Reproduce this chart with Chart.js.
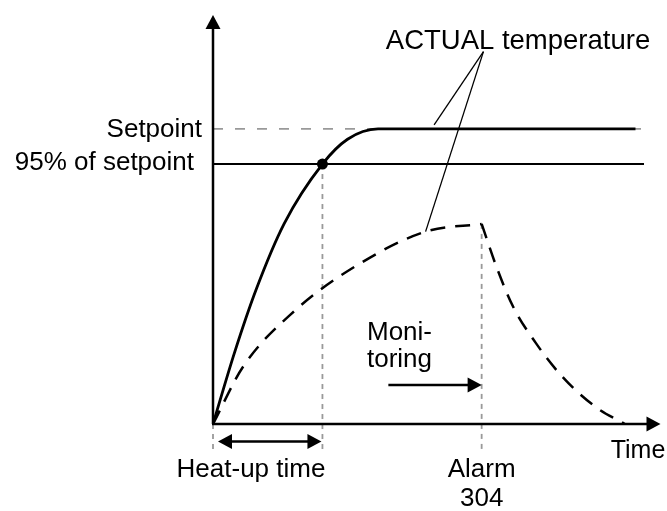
<!DOCTYPE html>
<html>
<head>
<meta charset="utf-8">
<script src="https://cdn.jsdelivr.net/npm/chart.js@4.4.1/dist/chart.umd.min.js"></script>
<style>
	html, body { margin: 0; padding: 0; background: #fff; }
	#wrap { width: 667px; height: 511px; position: relative; }
</style>
</head>
<body>
<div id="wrap"><canvas id="chart"></canvas></div>
<script>
// schematic units: time 0..100, temperature in % of setpoint
const solidTime = [0, 4.8, 9.6, 15.9, 24.4, 30.0, 36.8, 94.2];
const solidTemp = [0, 24.2, 45.5, 68.0, 88.1, 96.5, 100, 100];

const riseTime = [0, 6.7, 18.4, 31.6, 47.4, 59.9];
const riseTemp = [0, 19.4, 38.6, 53.3, 65.2, 67.8];

const fallTime = [59.9, 63.2, 66.9, 72.0, 77.9, 85.2, 91.8];
const fallTemp = [67.8, 53.3, 39.8, 27.4, 16.0, 5.9, 0];

const setpoint = 100;
const threshold = 88.1; // drawn level of "95% of setpoint"
const lineEnd = 96.1;
const heatUpTime = 24.4;
const alarmTime = 59.9;
const alarmTemp = 67.8;

const FAMILY = '"Liberation Sans", Arial, Helvetica, sans-serif';

function pts(xs, ys) {
	return xs.map((x, i) => ({ x: x, y: ys[i] }));
}

function arrowHead(ctx, x, y, angle, len, half) {
	ctx.save();
	ctx.translate(x, y);
	ctx.rotate(angle);
	ctx.beginPath();
	ctx.moveTo(0, 0);
	ctx.lineTo(-len, -half);
	ctx.lineTo(-len, half);
	ctx.closePath();
	ctx.fill();
	ctx.restore();
}

function seg(ctx, x1, y1, x2, y2) {
	ctx.beginPath();
	ctx.moveTo(x1, y1);
	ctx.lineTo(x2, y2);
	ctx.stroke();
}

const overlay = {
	id: "overlay",
	beforeDatasetsDraw(chart) {
		const ctx = chart.ctx;
		const sx = chart.scales.x, sy = chart.scales.y;
		const x0 = sx.getPixelForValue(0), y0 = sy.getPixelForValue(0);
		const below = y0 + 28;
		ctx.save();
		ctx.strokeStyle = "#999";
		ctx.lineWidth = 1.8;
		ctx.setLineDash([5, 5]);
		seg(ctx, x0, y0, x0, below);
		seg(ctx, sx.getPixelForValue(heatUpTime), sy.getPixelForValue(threshold), sx.getPixelForValue(heatUpTime), below);
		seg(ctx, sx.getPixelForValue(alarmTime), sy.getPixelForValue(alarmTemp), sx.getPixelForValue(alarmTime), below);
		ctx.restore();
	},
	afterDatasetsDraw(chart) {
		const ctx = chart.ctx;
		const sx = chart.scales.x, sy = chart.scales.y;
		const area = chart.chartArea;
		const x0 = sx.getPixelForValue(0), y0 = sy.getPixelForValue(0);
		ctx.save();
		ctx.fillStyle = "#000";
		ctx.strokeStyle = "#000";

		// axes with arrows
		ctx.lineWidth = 2.5;
		seg(ctx, x0, y0, x0, area.top + 12);
		arrowHead(ctx, x0, area.top, -Math.PI / 2, 14, 7.5);
		seg(ctx, x0 - 1, y0, area.right - 12, y0);
		arrowHead(ctx, area.right - 1, y0, 0, 14, 7.5);

		// leader lines to ACTUAL temperature
		ctx.lineWidth = 1.3;
		const ax = sx.getPixelForValue(60.3), ay = sy.getPixelForValue(126.2);
		seg(ctx, ax, ay, sx.getPixelForValue(49.3), sy.getPixelForValue(101.4));
		seg(ctx, ax, ay, sx.getPixelForValue(47.4), sy.getPixelForValue(65.2));

		// monitoring arrow
		ctx.lineWidth = 2.5;
		const my = sy.getPixelForValue(13.2);
		const mx1 = sx.getPixelForValue(39.1), mx2 = sx.getPixelForValue(alarmTime);
		seg(ctx, mx1, my, mx2 - 12, my);
		arrowHead(ctx, mx2, my, 0, 14, 7.5);

		// heat-up double arrow
		const hy = y0 + 17.5;
		const hx1 = x0 + 5, hx2 = sx.getPixelForValue(heatUpTime) - 1;
		seg(ctx, hx1 + 10, hy, hx2 - 10, hy);
		arrowHead(ctx, hx1, hy, Math.PI, 14, 7.5);
		arrowHead(ctx, hx2, hy, 0, 14, 7.5);

		// texts
		ctx.textBaseline = "middle";
		ctx.textAlign = "center";
		ctx.font = "27.5px " + FAMILY;
		ctx.fillText("ACTUAL temperature", 518, 41);
		ctx.font = "26px " + FAMILY;
		ctx.fillText("Heat-up time", 251, y0 + 46);
		ctx.fillText("Alarm", mx2, y0 + 46);
		ctx.fillText("304", mx2, y0 + 75);
		ctx.textAlign = "right";
		ctx.fillText("Setpoint", 202, sy.getPixelForValue(setpoint) + 1);
		ctx.fillText("95% of setpoint", 194, sy.getPixelForValue(threshold) - 1);
		ctx.textAlign = "left";
		ctx.fillText("Moni-", 367, my - 52);
		ctx.fillText("toring", 367, my - 25);
		ctx.textAlign = "center";
		ctx.font = "25px " + FAMILY;
		ctx.fillText("Time", 638, y0 + 27);
		ctx.restore();
	},
};

new Chart(document.getElementById("chart"), {
	type: "line",
	data: {
		datasets: [
			{
				label: "Setpoint",
				data: pts([0, lineEnd], [setpoint, setpoint]),
				borderColor: "#999",
				borderWidth: 1.8,
				borderDash: [10, 12],
				pointRadius: 0,
				order: 10,
			},
			{
				label: "95% of setpoint",
				data: pts([0, lineEnd], [threshold, threshold]),
				borderColor: "#000",
				borderWidth: 2,
				pointRadius: 0,
				order: 9,
			},
			{
				label: "Actual (solid)",
				data: pts(solidTime, solidTemp),
				borderColor: "#000",
				borderWidth: 2.8,
				pointRadius: 0,
				cubicInterpolationMode: "monotone",
				order: 5,
			},
			{
				label: "Actual (rise)",
				data: pts(riseTime, riseTemp),
				borderColor: "#000",
				borderWidth: 2.5,
				borderDash: [15, 10],
				pointRadius: 0,
				cubicInterpolationMode: "monotone",
				order: 5,
			},
			{
				label: "Actual (fall)",
				data: pts(fallTime, fallTemp),
				borderColor: "#000",
				borderWidth: 2.5,
				borderDash: [15, 10],
				pointRadius: 0,
				cubicInterpolationMode: "monotone",
				order: 5,
			},
			{
				label: "Heat-up point",
				data: [{ x: heatUpTime, y: threshold }],
				showLine: false,
				pointRadius: 5.5,
				pointBackgroundColor: "#000",
				pointBorderWidth: 0,
				order: 1,
			},
		],
	},
	options: {
		responsive: true,
		maintainAspectRatio: false,
		animation: false,
		layout: { padding: { left: 213, top: 15, right: 0, bottom: 87 } },
		plugins: {
			legend: { display: false },
			tooltip: { enabled: false },
		},
		scales: {
			x: { type: "linear", min: 0, max: 100, display: false },
			y: { type: "linear", min: 0, max: 138.6, display: false },
		},
	},
	plugins: [overlay],
});
</script>
</body>
</html>
